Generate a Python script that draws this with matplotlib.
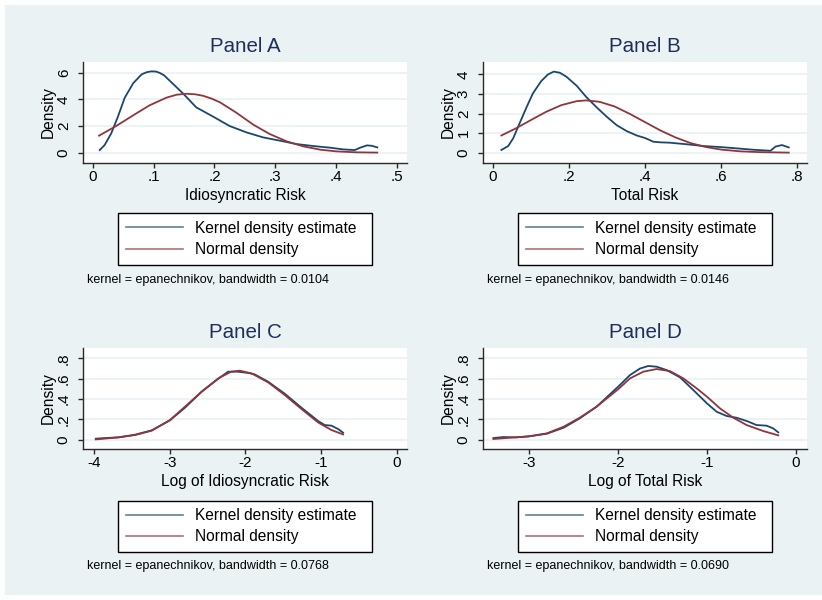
import matplotlib
matplotlib.use("Agg")
import matplotlib.pyplot as plt
from matplotlib.patches import Rectangle
from matplotlib.ticker import FuncFormatter

plt.rcParams["font.family"] = ["Liberation Sans", "DejaVu Sans"]

# ---- values ----
# Panel A: idiosyncratic risk
a_kde_x = [0.011, 0.019, 0.030, 0.041, 0.052, 0.066, 0.080, 0.088, 0.096, 0.104, 0.110, 0.117,
           0.132, 0.148, 0.170, 0.198, 0.225, 0.253, 0.280, 0.308, 0.335, 0.363, 0.390, 0.412,
           0.431, 0.440, 0.451, 0.459, 0.468]
a_kde_y = [0.2, 0.57, 1.45, 2.7, 4.1, 5.2, 5.87, 6.03, 6.1, 6.08, 5.98, 5.8,
           5.15, 4.45, 3.4, 2.7, 2.0, 1.52, 1.15, 0.9, 0.65, 0.5, 0.38, 0.25,
           0.2, 0.38, 0.55, 0.52, 0.4]
a_norm_x = [0.010, 0.038, 0.066, 0.093, 0.121, 0.138, 0.154, 0.168, 0.181, 0.195, 0.209, 0.236,
            0.264, 0.291, 0.319, 0.346, 0.374, 0.401, 0.434, 0.468]
a_norm_y = [1.28, 2.0, 2.8, 3.55, 4.13, 4.35, 4.42, 4.38, 4.27, 4.06, 3.78, 3.0,
            2.1, 1.4, 0.85, 0.48, 0.23, 0.1, 0.03, 0.01]

# Panel B: total risk
b_kde_x = [0.022, 0.040, 0.053, 0.070, 0.088, 0.105, 0.127, 0.145, 0.160, 0.176, 0.193, 0.220,
           0.246, 0.273, 0.299, 0.325, 0.352, 0.378, 0.400, 0.422, 0.440, 0.466, 0.510, 0.554,
           0.598, 0.642, 0.686, 0.730, 0.743, 0.760, 0.778]
b_kde_y = [0.14, 0.34, 0.73, 1.5, 2.31, 3.03, 3.66, 4.0, 4.14, 4.08, 3.88, 3.42,
           2.83, 2.31, 1.84, 1.41, 1.1, 0.88, 0.75, 0.56, 0.53, 0.51, 0.43, 0.34,
           0.29, 0.22, 0.15, 0.10, 0.31, 0.39, 0.27]
b_norm_x = [0.022, 0.06, 0.10, 0.14, 0.18, 0.22, 0.245, 0.28, 0.32, 0.36, 0.40, 0.44,
            0.48, 0.52, 0.56, 0.60, 0.65, 0.70, 0.778]
b_norm_y = [0.88, 1.24, 1.67, 2.09, 2.43, 2.63, 2.67, 2.60, 2.36, 1.98, 1.56, 1.14,
            0.78, 0.49, 0.29, 0.16, 0.07, 0.03, 0.005]

# Panel C: log of idiosyncratic risk
c_kde_x = [-3.98, -3.86, -3.68, -3.46, -3.24, -3.0, -2.80, -2.58, -2.36, -2.23, -2.10, -1.96,
           -1.88, -1.70, -1.48, -1.26, -1.04, -0.952, -0.863, -0.775, -0.709]
c_kde_y = [0.010, 0.016, 0.023, 0.049, 0.092, 0.19, 0.315, 0.472, 0.60, 0.669, 0.669, 0.656,
           0.643, 0.570, 0.452, 0.315, 0.184, 0.144, 0.138, 0.105, 0.069]
c_norm_x = [-3.98, -3.68, -3.46, -3.24, -3.0, -2.80, -2.58, -2.36, -2.19, -2.075, -1.92, -1.70,
            -1.48, -1.26, -1.04, -0.863, -0.709]
c_norm_y = [0.003, 0.023, 0.046, 0.089, 0.193, 0.325, 0.472, 0.603, 0.669, 0.679, 0.652, 0.564,
            0.439, 0.302, 0.170, 0.095, 0.052]

# Panel D: log of total risk
d_kde_x = [-3.40, -3.29, -3.14, -3.0, -2.80, -2.61, -2.43, -2.24, -2.0, -1.865, -1.753, -1.66,
           -1.566, -1.453, -1.303, -1.154, -1.0, -0.891, -0.779, -0.667, -0.554, -0.442, -0.330,
           -0.255, -0.199]
d_kde_y = [0.016, 0.026, 0.023, 0.033, 0.059, 0.118, 0.21, 0.325, 0.52, 0.636, 0.70, 0.725,
           0.718, 0.685, 0.613, 0.489, 0.357, 0.275, 0.233, 0.216, 0.184, 0.144, 0.138,
           0.111, 0.072]
d_norm_x = [-3.40, -3.0, -2.80, -2.61, -2.43, -2.24, -2.0, -1.865, -1.715, -1.566, -1.416, -1.266,
            -1.116, -1.0, -0.854, -0.704, -0.554, -0.367, -0.199]
d_norm_y = [0.007, 0.033, 0.062, 0.128, 0.216, 0.325, 0.495, 0.603, 0.669, 0.695, 0.675, 0.603,
            0.505, 0.423, 0.308, 0.216, 0.144, 0.085, 0.043]

titles = ["Panel A", "Panel B", "Panel C", "Panel D"]
xlabels = ["Idiosyncratic Risk", "Total Risk", "Log of Idiosyncratic Risk", "Log of Total Risk"]
xticks = [[0, 0.1, 0.2, 0.3, 0.4, 0.5], [0, 0.2, 0.4, 0.6, 0.8], [-4, -3, -2, -1, 0], [-3, -2, -1, 0]]
yticks = [[0, 2, 4, 6], [0, 1, 2, 3, 4], [0, 0.2, 0.4, 0.6, 0.8], [0, 0.2, 0.4, 0.6, 0.8]]
bandwidths = ["0.0104", "0.0146", "0.0768", "0.0690"]
legend_labels = ["Kernel density estimate", "Normal density"]

BLUE = "#1a476f"
RED = "#90353b"
BG = "#eaf2f3"
NAVY = "#1e2f5a"

W, H = 822, 600
fig = plt.figure(figsize=(W / 100, H / 100), dpi=100, facecolor="white")
fig.patches.append(Rectangle((5 / W, 5 / H), 817 / W, 590 / H, transform=fig.transFigure,
                             facecolor=BG, edgecolor="none", zorder=-10))


def fmt(v, pos):
    s = "%g" % round(v, 6)
    return s.replace("0.", ".")


def draw_panel(ax, kx, ky, nx, ny, title, xlabel, xt, yt, xlim, ylim):
    ax.set_facecolor("white")
    for y in yt:
        ax.axhline(y, color=BG, lw=1.3, zorder=0)
    ax.plot(kx, ky, color=BLUE, lw=1.3, zorder=3)
    ax.plot(nx, ny, color=RED, lw=1.3, zorder=3)
    ax.set_xlim(xlim)
    ax.set_ylim(ylim)
    ax.set_xticks(xt)
    ax.set_yticks(yt)
    ax.xaxis.set_major_formatter(FuncFormatter(fmt))
    ax.yaxis.set_major_formatter(FuncFormatter(fmt))
    for s in ["top", "right"]:
        ax.spines[s].set_visible(False)
    for s in ["left", "bottom"]:
        ax.spines[s].set_color("#2a2a2a")
        ax.spines[s].set_linewidth(1.0)
    ax.tick_params(axis="both", direction="out", length=3.8, width=1.0, color="#2a2a2a",
                   labelsize=11, labelcolor="black")
    ax.tick_params(axis="x", pad=1.3)
    ax.tick_params(axis="y", pad=5.0)
    for lab in ax.get_yticklabels():
        lab.set_rotation(90)
        lab.set_va("center")
    ax.set_title(title, fontsize=14.8, color=NAVY, pad=7.0)
    ax.set_xlabel(xlabel, fontsize=11.2, labelpad=3)
    ax.set_ylabel("Density", fontsize=11.2, labelpad=0.5)


# axes boxes in pixels: (left, top)
boxes = [(83, 62), (483, 62), (83, 348), (483, 348)]
limits = [((-0.0165, 0.517), (-0.77, 6.8)),
          ((-0.0263, 0.826), (-0.525, 4.63)),
          ((-4.149, 0.136), (-0.0915, 0.902)),
          ((-3.517, 0.124), (-0.0915, 0.902))]
data = [(a_kde_x, a_kde_y, a_norm_x, a_norm_y),
        (b_kde_x, b_kde_y, b_norm_x, b_norm_y),
        (c_kde_x, c_kde_y, c_norm_x, c_norm_y),
        (d_kde_x, d_kde_y, d_norm_x, d_norm_y)]

for i in range(4):
    left, top = boxes[i]
    ax = fig.add_axes([left / W, 1 - (top + 101) / H, 324 / W, 101 / H])
    kx, ky, nx, ny = data[i]
    draw_panel(ax, kx, ky, nx, ny, titles[i], xlabels[i], xticks[i], yticks[i],
               limits[i][0], limits[i][1])

    # legend below each panel
    leg_left = left + 35
    leg_top = top + 151 if i < 2 else top + 152.5
    h1, = ax.plot([], [], color=BLUE, lw=1.2, alpha=0.7)
    h2, = ax.plot([], [], color=RED, lw=1.2, alpha=0.7)
    leg = fig.legend([h1, h2], legend_labels, loc="upper left",
                     bbox_to_anchor=(leg_left / W, 1 - leg_top / H, 254 / W, 0),
                     bbox_transform=fig.transFigure, mode="expand", fontsize=11.2,
                     frameon=True, fancybox=False, shadow=False, borderpad=0.5,
                     labelspacing=0.4, handlelength=3.7, handletextpad=0.75, borderaxespad=0)
    leg.get_frame().set_edgecolor("black")
    leg.get_frame().set_linewidth(1.0)
    leg.get_frame().set_facecolor("white")
    leg.get_frame().set_alpha(1)

    fig.text((left + 4) / W, 1 - (top + 218.5) / H,
             "kernel = epanechnikov, bandwidth = " + bandwidths[i],
             fontsize=9.0, ha="left", va="center")

fig.savefig("out.png", dpi=100, facecolor="white")
